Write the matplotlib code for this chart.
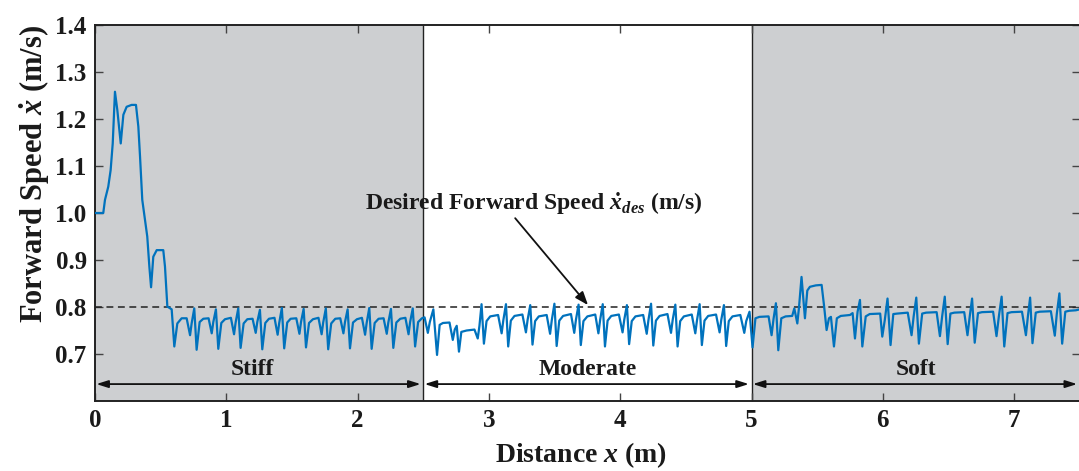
import matplotlib
matplotlib.use('Agg')
import matplotlib.pyplot as plt
import numpy as np

# ---------------- data ----------------
transient_x = [0.000, 0.063, 0.076, 0.101, 0.119, 0.135, 0.152, 0.170, 0.196, 0.216, 0.241, 0.279, 0.312,
               0.330, 0.343, 0.360, 0.381, 0.398, 0.414, 0.427, 0.444, 0.470, 0.520, 0.533, 0.551, 0.584]
transient_v = [1.000, 1.000, 1.028, 1.056, 1.091, 1.148, 1.258, 1.219, 1.148, 1.209, 1.226, 1.230, 1.230,
               1.184, 1.120, 1.028, 0.985, 0.950, 0.886, 0.842, 0.907, 0.921, 0.921, 0.886, 0.801, 0.795]

stiff_x = [0.604, 0.627, 0.660, 0.698, 0.724, 0.736, 0.756,
           0.774, 0.797, 0.825, 0.865, 0.889, 0.901, 0.921,
           0.939, 0.962, 0.990, 1.035, 1.059, 1.071, 1.091,
           1.109, 1.132, 1.160, 1.200, 1.224, 1.236, 1.256,
           1.274, 1.297, 1.325, 1.367, 1.391, 1.403, 1.423,
           1.441, 1.464, 1.490, 1.533, 1.557, 1.569, 1.589,
           1.607, 1.630, 1.660, 1.702, 1.726, 1.738, 1.758,
           1.776, 1.799, 1.830, 1.868, 1.892, 1.904, 1.924,
           1.942, 1.965, 1.995, 2.033, 2.057, 2.069, 2.089,
           2.107, 2.130, 2.160, 2.198, 2.222, 2.234, 2.254,
           2.272, 2.295, 2.325, 2.364, 2.388, 2.400, 2.420,
           2.438, 2.461, 2.490]
stiff_v = [0.716, 0.765, 0.776, 0.776, 0.740, 0.765, 0.797,
           0.709, 0.768, 0.775, 0.776, 0.744, 0.768, 0.795,
           0.711, 0.766, 0.774, 0.777, 0.742, 0.767, 0.797,
           0.713, 0.765, 0.774, 0.775, 0.745, 0.768, 0.794,
           0.710, 0.766, 0.775, 0.777, 0.741, 0.766, 0.798,
           0.712, 0.767, 0.775, 0.776, 0.743, 0.768, 0.796,
           0.714, 0.766, 0.774, 0.777, 0.742, 0.767, 0.797,
           0.710, 0.765, 0.775, 0.776, 0.744, 0.768, 0.795,
           0.712, 0.767, 0.774, 0.777, 0.741, 0.766, 0.798,
           0.711, 0.766, 0.775, 0.776, 0.743, 0.767, 0.796,
           0.713, 0.767, 0.775, 0.777, 0.742, 0.768, 0.797,
           0.716, 0.768, 0.776]

moderate_x = [2.510, 2.535, 2.550, 2.577, 2.605, 2.625, 2.650, 2.700, 2.725, 2.740, 2.755, 2.772, 2.790,
              2.830, 2.890, 2.915, 2.928, 2.944,
              2.962, 2.982, 3.010, 3.070, 3.097, 3.110, 3.130,
              3.147, 3.167, 3.195, 3.255, 3.282, 3.295, 3.315,
              3.332, 3.352, 3.380, 3.440, 3.466, 3.479, 3.499,
              3.516, 3.536, 3.565, 3.625, 3.650, 3.663, 3.683,
              3.700, 3.720, 3.750, 3.810, 3.834, 3.847, 3.867,
              3.884, 3.904, 3.932, 3.990, 4.018, 4.031, 4.051,
              4.068, 4.088, 4.116, 4.175, 4.202, 4.215, 4.235,
              4.252, 4.272, 4.300, 4.360, 4.387, 4.400, 4.420,
              4.437, 4.457, 4.485, 4.545, 4.572, 4.585, 4.605,
              4.622, 4.642, 4.670, 4.730, 4.757, 4.770, 4.790,
              4.807, 4.827, 4.855, 4.915, 4.945, 4.960, 4.985]
moderate_v = [0.778, 0.745, 0.768, 0.795, 0.698, 0.762, 0.766, 0.767, 0.730, 0.752, 0.760, 0.705, 0.747,
              0.750, 0.752, 0.733, 0.760, 0.806,
              0.722, 0.770, 0.780, 0.783, 0.744, 0.772, 0.806,
              0.716, 0.771, 0.781, 0.784, 0.746, 0.773, 0.804,
              0.720, 0.770, 0.780, 0.783, 0.743, 0.772, 0.807,
              0.717, 0.771, 0.781, 0.785, 0.745, 0.773, 0.805,
              0.719, 0.770, 0.780, 0.784, 0.744, 0.772, 0.806,
              0.716, 0.771, 0.781, 0.784, 0.746, 0.773, 0.804,
              0.721, 0.770, 0.780, 0.783, 0.743, 0.772, 0.807,
              0.718, 0.771, 0.781, 0.785, 0.745, 0.773, 0.805,
              0.716, 0.770, 0.780, 0.784, 0.744, 0.772, 0.806,
              0.719, 0.771, 0.781, 0.784, 0.746, 0.773, 0.804,
              0.717, 0.770, 0.780, 0.783, 0.745, 0.770, 0.790]

soft_x = [5.008, 5.030, 5.060, 5.130, 5.153, 5.168, 5.186, 5.204, 5.227, 5.260, 5.310, 5.326, 5.349,
          5.362, 5.381, 5.407, 5.425, 5.445, 5.490, 5.534, 5.552, 5.572, 5.590, 5.605, 5.628,
          5.650, 5.680, 5.750, 5.770, 5.788, 5.808, 5.826, 5.844,
          5.870, 5.900, 5.980, 5.996, 6.015, 6.036, 6.059,
          6.080, 6.110, 6.190, 6.219, 6.235, 6.255, 6.275,
          6.300, 6.330, 6.410, 6.435, 6.452, 6.472, 6.494,
          6.515, 6.545, 6.620, 6.645, 6.662, 6.680, 6.700,
          6.725, 6.755, 6.840, 6.866, 6.884, 6.905, 6.925,
          6.950, 6.980, 7.060, 7.090, 7.105, 7.122, 7.140,
          7.165, 7.195, 7.280, 7.310, 7.325, 7.345, 7.366,
          7.390, 7.420, 7.470, 7.500]
soft_v = [0.714, 0.776, 0.779, 0.780, 0.740, 0.775, 0.808, 0.708, 0.776, 0.780, 0.781, 0.797, 0.765,
          0.800, 0.864, 0.776, 0.835, 0.843, 0.846, 0.847, 0.804, 0.751, 0.776, 0.779, 0.716,
          0.776, 0.781, 0.783, 0.787, 0.733, 0.790, 0.815, 0.716,
          0.780, 0.785, 0.786, 0.737, 0.772, 0.818, 0.719,
          0.785, 0.786, 0.788, 0.740, 0.780, 0.820, 0.722,
          0.786, 0.788, 0.789, 0.738, 0.780, 0.822, 0.721,
          0.786, 0.788, 0.789, 0.740, 0.780, 0.818, 0.724,
          0.787, 0.789, 0.790, 0.738, 0.780, 0.822, 0.716,
          0.787, 0.789, 0.790, 0.740, 0.780, 0.820, 0.723,
          0.788, 0.790, 0.791, 0.739, 0.785, 0.829, 0.722,
          0.790, 0.792, 0.793, 0.795]

desired_speed = 0.8
region_names = ['Stiff', 'Moderate', 'Soft']
region_bounds = [0.0, 2.5, 5.0, 7.5]
shaded_regions = [(0.0, 2.5), (5.0, 7.5)]
x_ticks = [0, 1, 2, 3, 4, 5, 6, 7]
y_ticks = [0.7, 0.8, 0.9, 1.0, 1.1, 1.2, 1.3, 1.4]

# ---------------- style ----------------
plt.rcParams['font.family'] = ['Liberation Serif', 'DejaVu Serif']
plt.rcParams['font.weight'] = 'bold'
plt.rcParams['mathtext.fontset'] = 'custom'
plt.rcParams['mathtext.it'] = 'Liberation Serif:italic:bold'
plt.rcParams['mathtext.rm'] = 'Liberation Serif:bold'
plt.rcParams['mathtext.bf'] = 'Liberation Serif:bold'

W, H = 1079, 471
fig = plt.figure(figsize=(W / 100, H / 100), dpi=100)
ax = fig.add_axes([95 / W, 70 / H, 984.75 / W, 376 / H])

txt = '#1a1a1a'
gray = '#cdcfd1'
for a, b in shaded_regions:
    ax.axvspan(a, b, color=gray, zorder=0, lw=0)
for xb in region_bounds[1:-1]:
    ax.axvline(xb, color='#222222', lw=1.0, zorder=1)

ax.axhline(desired_speed, color='#222222', lw=1.1, dashes=(4.5, 3), zorder=2)

dist = np.concatenate([transient_x, stiff_x, moderate_x, soft_x])
speed = np.concatenate([transient_v, stiff_v, moderate_v, soft_v])
ax.plot(dist, speed, color='#0072BD', lw=1.6, zorder=3)

ax.set_xlim(0, 7.5)
ax.set_ylim(0.6, 1.4)
ax.set_xticks(x_ticks)
ax.set_yticks(y_ticks)
ax.set_xticklabels([str(t) for t in x_ticks])
ax.set_yticklabels([f'{t:.1f}' for t in y_ticks])
ax.tick_params(direction='in', top=True, right=True, length=6, width=1.0,
               color='#444444', labelsize=18, labelcolor=txt, pad=6)
for lab in ax.get_xticklabels() + ax.get_yticklabels():
    lab.set_fontweight('bold')
for s in ax.spines.values():
    s.set_linewidth(1.4)
    s.set_color('#222222')

# region arrows and labels
arrow_y = 0.636
label_y = 0.668
for i, name in enumerate(region_names):
    a, b = region_bounds[i], region_bounds[i + 1]
    ax.annotate('', xy=(a + 0.01, arrow_y), xytext=(b - 0.02, arrow_y),
                arrowprops=dict(arrowstyle='<|-|>,head_length=0.7,head_width=0.22',
                                color='#111111', lw=1.3, shrinkA=0, shrinkB=0), zorder=4)
    cx = (a + b) / 2 + (-0.05 if i == 0 else 0.0)
    ax.text(cx, label_y, name, ha='center', va='center', fontsize=17,
            fontweight='bold', color=txt, zorder=4)

# desired speed annotation
ax.text(3.34, 1.02, r'Desired Forward Speed $\dot{x}_{des}$ (m/s)', ha='center', va='center',
        fontsize=17, fontweight='bold', color=txt, zorder=5)
ax.annotate('', xy=(3.755, 0.804), xytext=(3.20, 0.989),
            arrowprops=dict(arrowstyle='-|>,head_length=0.8,head_width=0.3', color='#111111',
                            lw=1.3, shrinkA=0, shrinkB=0), zorder=5)

fig.text(581 / W, 1 - 455 / H, r'Distance $x$ (m)', ha='center', va='center',
         fontsize=20, fontweight='bold', color=txt)
fig.text(35 / W, 1 - 174 / H, r'Forward Speed $\dot{x}$ (m/s)', ha='center', va='center',
         rotation=90, fontsize=22, fontweight='bold', color=txt)

fig.savefig('out.png', dpi=100)
